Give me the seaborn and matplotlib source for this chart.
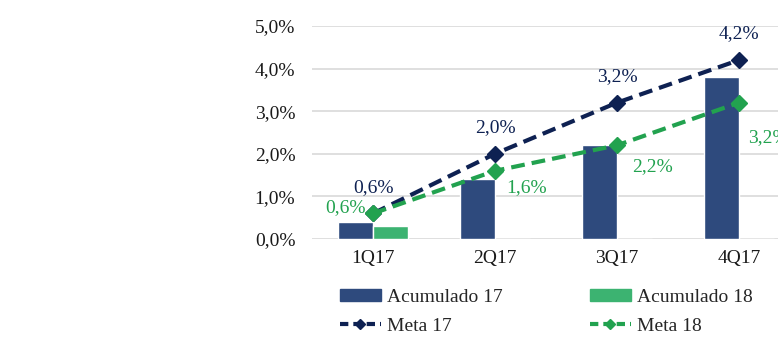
import numpy as np
import pandas as pd
import seaborn as sns
import matplotlib.pyplot as plt
from matplotlib.lines import Line2D
from matplotlib.patches import Patch

quarters = ["1Q17", "2Q17", "3Q17", "4Q17"]
acum_17 = [0.4, 1.4, 2.2, 3.8]
acum_18 = [0.3, 0.0, 0.0, 0.0]
meta_17 = [0.6, 2.0, 3.2, 4.2]
meta_18 = [0.6, 1.6, 2.2, 3.2]

c_acum17 = "#2e4a7d"
c_acum18 = "#3cb371"
c_meta17 = "#0e2152"
c_meta18 = "#22a24f"

sns.set_theme(style="white")
plt.rcParams['font.family'] = ['Liberation Serif', 'DejaVu Serif']
fs = 14

bars = pd.DataFrame({
    "Quarter": quarters * 2,
    "Serie": ["Acumulado 17"] * 4 + ["Acumulado 18"] * 4,
    "Valor": acum_17 + acum_18,
})

fig = plt.figure(figsize=(7.78, 3.59), dpi=100)
ax = fig.add_axes([312 / 778, 120 / 359, 488 / 778, 213 / 359])

sns.barplot(data=bars, x="Quarter", y="Valor", hue="Serie",
            palette=[c_acum17, c_acum18], width=0.58, saturation=1,
            legend=False, ax=ax)

x = np.arange(len(quarters))
ax.plot(x, meta_17, color=c_meta17, ls="--", lw=3, marker="D", ms=8.5,
        dashes=(3.3, 1.7))
ax.plot(x, meta_18, color=c_meta18, ls="--", lw=3, marker="D", ms=8.5,
        dashes=(3.3, 1.7))

# data labels
for xi, v in zip(x, meta_17):
    ax.annotate(f"{v:.1f}%".replace(".", ","), (xi, v), xytext=(0, 26),
                textcoords="offset pixels", ha="center", va="center",
                color=c_meta17, fontsize=fs)

m18_offsets = [(-28, 6), (11, -17), (15, -21), (9, -35)]
for xi, v, (dx, dy) in zip(x, meta_18, m18_offsets):
    ax.annotate(f"{v:.1f}%".replace(".", ","), (xi, v), xytext=(dx, dy),
                textcoords="offset pixels", ha="center" if dx < 0 else "left",
                va="center", color=c_meta18, fontsize=fs)

ax.set_ylim(0, 5)
ax.set_xlim(-0.5, 3.5)
ax.set_yticks(np.arange(0, 5.01, 1))
ax.set_yticklabels([f"{t:.1f}%".replace(".", ",") for t in np.arange(0, 5.01, 1)])
ax.yaxis.grid(True, color="#d9d9d9", lw=1.2)
ax.set_axisbelow(True)
for s in ax.spines.values():
    s.set_visible(False)
ax.set_xlabel("")
ax.set_ylabel("")
ax.tick_params(axis="both", length=0, labelsize=fs, colors="#1a1a1a")
ax.tick_params(axis="y", pad=12)
ax.tick_params(axis="x", pad=8)

handles = [
    Patch(color=c_acum17, label="Acumulado 17"),
    Patch(color=c_acum18, label="Acumulado 18"),
    Line2D([], [], color=c_meta17, ls="--", lw=3, marker="D", ms=5,
           dashes=(2, 1.2), label="Meta 17"),
    Line2D([], [], color=c_meta18, ls="--", lw=3, marker="D", ms=5,
           dashes=(2, 1.2), label="Meta 18"),
]
fig.legend(handles=[handles[0], handles[2], handles[1], handles[3]],
           ncol=2, loc="center left", bbox_to_anchor=(340 / 778, 47 / 359),
           frameon=False, fontsize=fs, handlelength=2.1, handleheight=0.6,
           columnspacing=4.5, labelspacing=0.6, handletextpad=0.3,
           borderpad=0, borderaxespad=0)

fig.savefig("out.png", dpi=100)
